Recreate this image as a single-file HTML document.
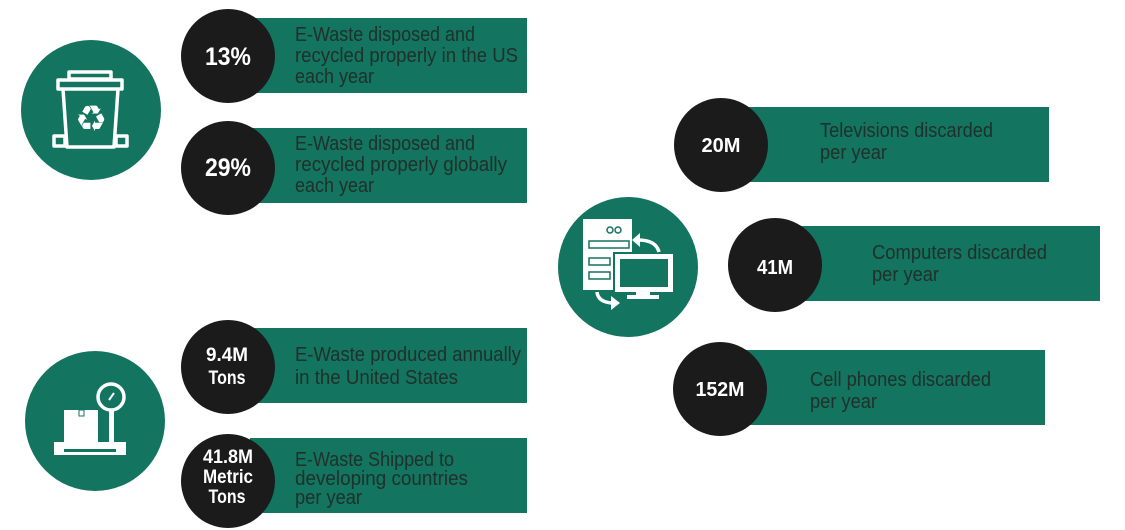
<!DOCTYPE html>
<html><head><meta charset="utf-8"><style>
html,body{margin:0;padding:0;background:#fff;}
svg{display:block;}
.t{font-family:"Liberation Sans",sans-serif;font-size:20px;fill:#20302a;}
.b{font-family:"Liberation Sans",sans-serif;font-weight:bold;fill:#fff;text-anchor:middle;}
</style></head><body>
<svg width="1125" height="530" viewBox="0 0 1125 530" xmlns="http://www.w3.org/2000/svg">
<rect width="1125" height="530" fill="#fff"/>
<!-- green bars -->
<g fill="#137460">
<rect x="250" y="18" width="277" height="75"/>
<rect x="250" y="128" width="277" height="75"/>
<rect x="250" y="328" width="277" height="75"/>
<rect x="250" y="438" width="277" height="75"/>
<rect x="740" y="107" width="309" height="75"/>
<rect x="800" y="226" width="300" height="75"/>
<rect x="740" y="350" width="305" height="75"/>
</g>
<!-- big green circles -->
<g fill="#137460">
<circle cx="91" cy="110" r="70"/>
<circle cx="95" cy="421" r="70"/>
<circle cx="628" cy="267" r="70"/>
</g>
<!-- black circles -->
<g fill="#1b1b1b">
<circle cx="228" cy="56" r="47"/>
<circle cx="228" cy="168" r="47"/>
<circle cx="228" cy="367" r="47"/>
<circle cx="228" cy="481" r="47"/>
<circle cx="721" cy="145" r="47"/>
<circle cx="775" cy="265" r="47"/>
<circle cx="720" cy="389" r="47"/>
</g>

<!-- trash icon -->
<g stroke="#fff" stroke-width="3.5" fill="none" stroke-linejoin="round">
<rect x="69" y="72" width="42" height="7"/>
<rect x="58" y="80" width="64" height="9"/>
<path d="M63 89 L67 147 L114 147 L118 89"/>
<rect x="54" y="136" width="11" height="10"/>
<rect x="116" y="136" width="11" height="10"/>
</g>
<text x="91" y="131" font-family="DejaVu Sans, sans-serif" font-size="36" fill="#fff" text-anchor="middle">♻</text>

<!-- scale icon -->
<g fill="#fff">
<rect x="64" y="410" width="34" height="32"/>
<rect x="54" y="442" width="72" height="13"/>
<rect x="109" y="410" width="5" height="32"/>
</g>
<rect x="64" y="449" width="52" height="3" fill="#137460"/>
<rect x="79" y="410" width="5" height="6" fill="none" stroke="#137460" stroke-width="1"/>
<circle cx="111" cy="397" r="13" fill="none" stroke="#fff" stroke-width="3.5"/>
<line x1="109" y1="400" x2="114" y2="393" stroke="#fff" stroke-width="2"/>

<!-- computer icon -->
<rect x="583" y="219" width="49" height="71" fill="#fff"/>
<g fill="none" stroke="#137460" stroke-width="1.5">
<circle cx="610" cy="230" r="3"/>
<circle cx="618" cy="230" r="3"/>
<rect x="589" y="241" width="40" height="7"/>
<rect x="589" y="258" width="21" height="7"/>
<rect x="589" y="272" width="21" height="7"/>
</g>
<rect x="613" y="252" width="62" height="42" fill="#137460"/>
<rect x="615" y="254" width="58" height="38" fill="#fff"/>
<rect x="620" y="259" width="48" height="28" fill="#137460"/>
<rect x="636" y="292" width="14" height="4" fill="#fff"/>
<rect x="627" y="295" width="32" height="4" fill="#fff"/>
<g fill="none" stroke="#fff" stroke-width="3.5">
<path d="M638 240 Q656 240 659 252"/>
<path d="M597 292 Q598 302 612 303"/>
</g>
<polygon points="632,240 640,233 640,247" fill="#fff"/>
<polygon points="620,303 611,296 611,310" fill="#fff"/>

<!-- labels -->
<text class="b" x="228" y="65" font-size="25" textLength="46" lengthAdjust="spacingAndGlyphs">13%</text>
<text class="b" x="228" y="176" font-size="25" textLength="46" lengthAdjust="spacingAndGlyphs">29%</text>
<text class="b" x="227" y="361" font-size="19" textLength="42" lengthAdjust="spacingAndGlyphs">9.4M</text>
<text class="b" x="227" y="384" font-size="19" textLength="37" lengthAdjust="spacingAndGlyphs">Tons</text>
<text class="b" x="228" y="463" font-size="19" textLength="50" lengthAdjust="spacingAndGlyphs">41.8M</text>
<text class="b" x="228" y="483" font-size="19" textLength="50" lengthAdjust="spacingAndGlyphs">Metric</text>
<text class="b" x="227" y="503" font-size="19" textLength="37" lengthAdjust="spacingAndGlyphs">Tons</text>
<text class="b" x="721" y="152" font-size="20" textLength="39" lengthAdjust="spacingAndGlyphs">20M</text>
<text class="b" x="775" y="274" font-size="20" textLength="36" lengthAdjust="spacingAndGlyphs">41M</text>
<text class="b" x="720" y="396" font-size="20" textLength="49" lengthAdjust="spacingAndGlyphs">152M</text>

<!-- descriptions -->
<text class="t" x="295" y="41" textLength="180" lengthAdjust="spacingAndGlyphs">E-Waste disposed and</text>
<text class="t" x="295" y="62" textLength="223" lengthAdjust="spacingAndGlyphs">recycled properly in the US</text>
<text class="t" x="295" y="83" textLength="79" lengthAdjust="spacingAndGlyphs">each year</text>

<text class="t" x="295" y="150" textLength="180" lengthAdjust="spacingAndGlyphs">E-Waste disposed and</text>
<text class="t" x="295" y="171" textLength="212" lengthAdjust="spacingAndGlyphs">recycled properly globally</text>
<text class="t" x="295" y="192" textLength="79" lengthAdjust="spacingAndGlyphs">each year</text>

<text class="t" x="295" y="361" textLength="226" lengthAdjust="spacingAndGlyphs">E-Waste produced annually</text>
<text class="t" x="295" y="384" textLength="163" lengthAdjust="spacingAndGlyphs">in the United States</text>

<text class="t" x="295" y="466" textLength="159" lengthAdjust="spacingAndGlyphs">E-Waste Shipped to</text>
<text class="t" x="295" y="485" textLength="173" lengthAdjust="spacingAndGlyphs">developing countries</text>
<text class="t" x="295" y="504" textLength="67" lengthAdjust="spacingAndGlyphs">per year</text>

<text class="t" x="820" y="137" textLength="173" lengthAdjust="spacingAndGlyphs">Televisions discarded</text>
<text class="t" x="820" y="159" textLength="67" lengthAdjust="spacingAndGlyphs">per year</text>

<text class="t" x="872" y="259" textLength="175" lengthAdjust="spacingAndGlyphs">Computers discarded</text>
<text class="t" x="872" y="281" textLength="67" lengthAdjust="spacingAndGlyphs">per year</text>

<text class="t" x="810" y="386" textLength="181" lengthAdjust="spacingAndGlyphs">Cell phones discarded</text>
<text class="t" x="810" y="408" textLength="67" lengthAdjust="spacingAndGlyphs">per year</text>
</svg>
</body></html>
